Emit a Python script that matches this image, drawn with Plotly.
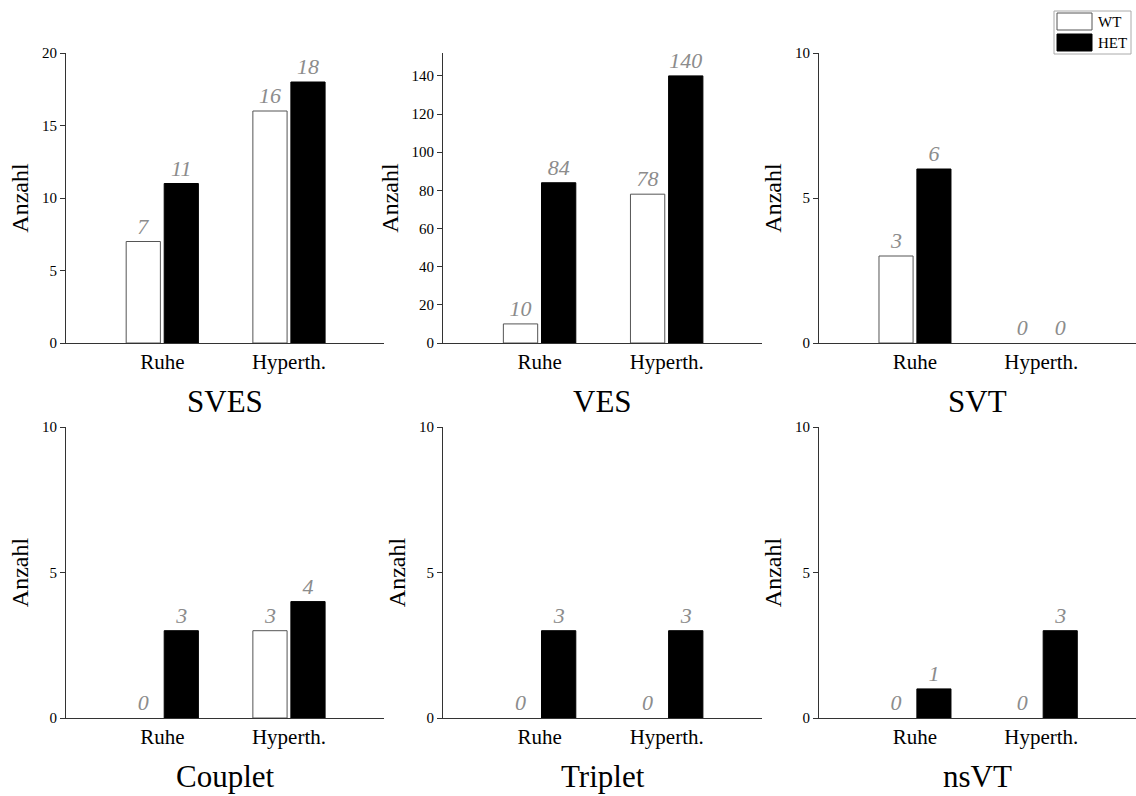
import plotly.graph_objects as go

# Categories and group names
categories = ["Ruhe", "Hyperth."]
panel_titles = ["SVES", "VES", "SVT", "Couplet", "Triplet", "nsVT"]

# Counts per panel (WT vs. HET)
wt_sves = [7, 16]
het_sves = [11, 18]
wt_ves = [10, 78]
het_ves = [84, 140]
wt_svt = [3, 0]
het_svt = [6, 0]
wt_couplet = [0, 3]
het_couplet = [3, 4]
wt_triplet = [0, 0]
het_triplet = [3, 3]
wt_nsvt = [0, 0]
het_nsvt = [1, 3]

# y-axis ranges and tick values per panel
y_ranges = [[0, 20], [0, 152], [0, 10], [0, 10], [0, 10], [0, 10]]
y_ticks = [
    [0, 5, 10, 15, 20],
    [0, 20, 40, 60, 80, 100, 120, 140],
    [0, 5, 10],
    [0, 5, 10],
    [0, 5, 10],
    [0, 5, 10],
]

wt_all = [wt_sves, wt_ves, wt_svt, wt_couplet, wt_triplet, wt_nsvt]
het_all = [het_sves, het_ves, het_svt, het_couplet, het_triplet, het_nsvt]

W, H = 1136, 796
FONT = "Liberation Serif, Times New Roman, serif"
LABEL_GREY = "#8c8c8c"
AXIS_COL = "#333333"

# panel placement in pixels
col_px = [(66, 384), (443, 762), (819, 1136)]
row_px = [(53, 343), (427, 718)]
title_bottom_px = [421, 796]


def outline_widths(values, w=1):
    # no outline on empty bars so nothing sits on the axis line
    return [w if v > 0 else 0 for v in values]


fig = go.Figure()

for i in range(6):
    r, c = divmod(i, 3)
    suffix = "" if i == 0 else str(i + 1)
    xa, ya = "x" + suffix, "y" + suffix
    common = dict(
        x=categories,
        xaxis=xa,
        yaxis=ya,
        texttemplate="<i>%{y}</i>",
        textposition="outside",
        textfont=dict(family=FONT, size=22, color=LABEL_GREY),
        constraintext="none",
        cliponaxis=False,
        showlegend=False,
        hoverinfo="skip",
    )
    fig.add_trace(go.Bar(
        y=wt_all[i], name="WT",
        marker=dict(color="white",
                    line=dict(color="#555555", width=outline_widths(wt_all[i]))),
        **common,
    ))
    fig.add_trace(go.Bar(
        y=het_all[i], name="HET",
        marker=dict(color="black",
                    line=dict(color="black", width=outline_widths(het_all[i]))),
        **common,
    ))

    x0, x1 = col_px[c]
    y0, y1 = row_px[r]
    fig.layout["xaxis" + suffix] = dict(
        domain=[x0 / W, x1 / W],
        anchor=ya,
        range=[-0.76, 1.75],
        showline=True, linecolor=AXIS_COL, linewidth=1,
        ticks="", showgrid=False, zeroline=False,
        tickfont=dict(family=FONT, size=21, color="black"),
        fixedrange=True,
    )
    fig.layout["yaxis" + suffix] = dict(
        domain=[1 - y1 / H, 1 - y0 / H],
        anchor=xa,
        range=y_ranges[i],
        tickvals=y_ticks[i],
        showline=True, linecolor=AXIS_COL, linewidth=1,
        ticks="outside", ticklen=5, tickcolor=AXIS_COL,
        showgrid=False, zeroline=False,
        tickfont=dict(family=FONT, size=15, color="black"),
        title=dict(text="Anzahl", font=dict(family=FONT, size=24, color="black"), standoff=6),
        automargin=False,
        fixedrange=True,
    )
    # panel title below each subplot
    fig.add_annotation(
        text=panel_titles[i], xref="paper", yref="paper",
        x=(x0 + x1) / 2 / W, y=1 - title_bottom_px[r] / H,
        xanchor="center", yanchor="bottom", showarrow=False,
        font=dict(family=FONT, size=31, color="black"),
    )

# legend drawn as swatches in the upper right corner
fig.add_shape(type="rect", xref="paper", yref="paper",
              x0=1054 / W, x1=1131 / W, y0=1 - 54 / H, y1=1 - 11 / H,
              line=dict(color="#aaaaaa", width=1), fillcolor="white")
fig.add_shape(type="rect", xref="paper", yref="paper",
              x0=1057 / W, x1=1092 / W, y0=1 - 30 / H, y1=1 - 13 / H,
              line=dict(color="#555555", width=1), fillcolor="white")
fig.add_shape(type="rect", xref="paper", yref="paper",
              x0=1057 / W, x1=1092 / W, y0=1 - 51 / H, y1=1 - 34 / H,
              line=dict(color="black", width=1), fillcolor="black")
for label, yc in (("WT", 22), ("HET", 43)):
    fig.add_annotation(text=label, xref="paper", yref="paper",
                       x=1096 / W, y=1 - yc / H, xanchor="left", yanchor="middle",
                       showarrow=False, font=dict(family=FONT, size=15, color="black"))

fig.update_layout(
    width=W, height=H,
    margin=dict(l=0, r=0, t=0, b=0),
    barmode="group", bargap=0.4, bargroupgap=0.1,
    paper_bgcolor="white", plot_bgcolor="white",
    font=dict(family=FONT),
)

fig.write_html("out.html")
